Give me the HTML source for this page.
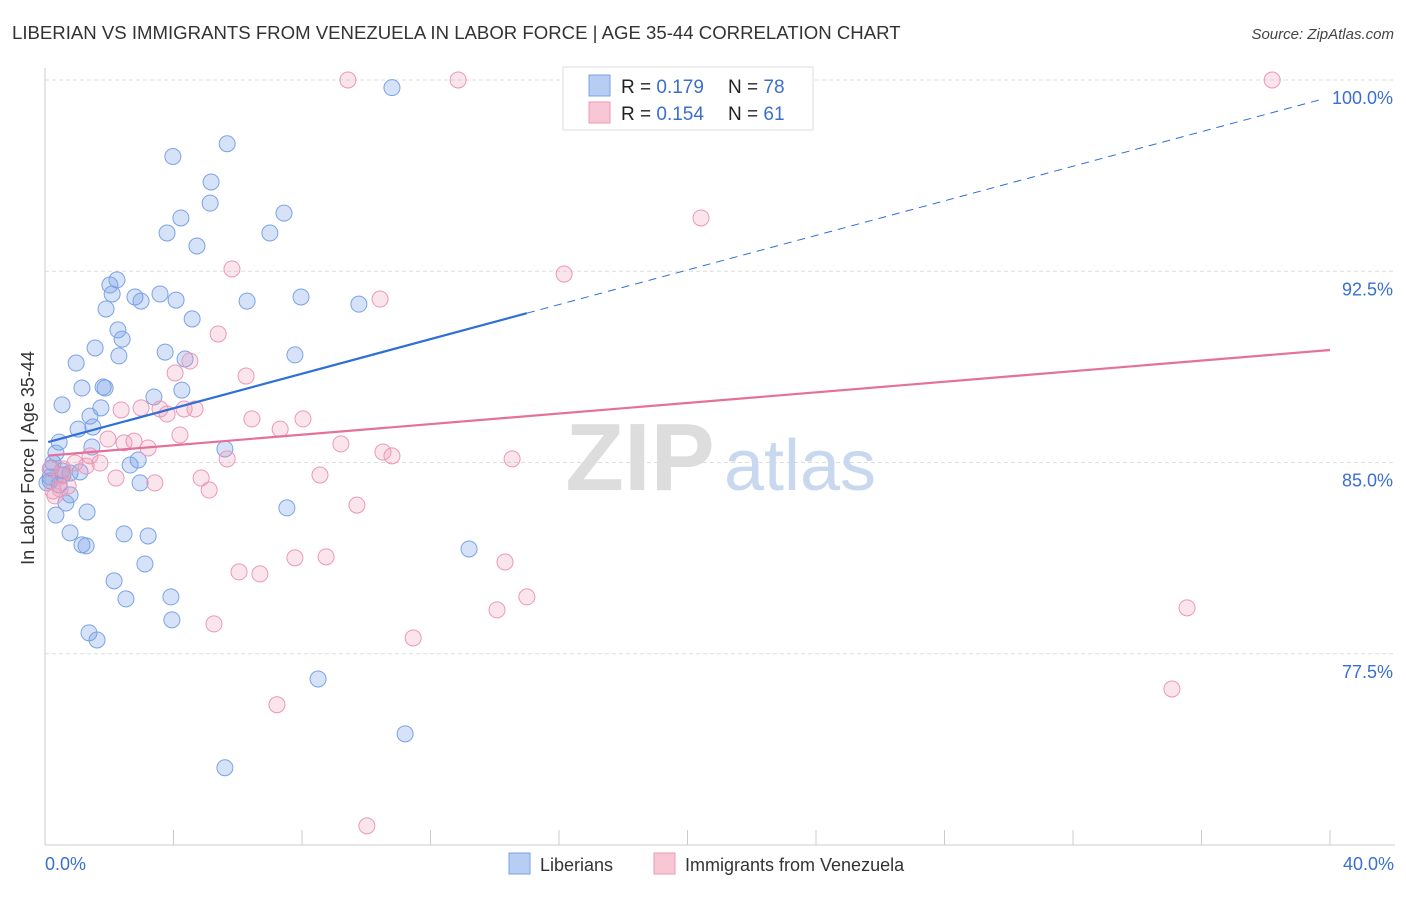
<!DOCTYPE html>
<html><head><meta charset="utf-8"><style>
body{margin:0;background:#fff;font-family:"Liberation Sans",sans-serif;}
svg text{font-family:"Liberation Sans",sans-serif;}
</style></head><body>
<svg id="chart" width="1406" height="892" viewBox="0 0 1406 892">
<text x="12" y="39" font-size="18.6" fill="#333">LIBERIAN VS IMMIGRANTS FROM VENEZUELA IN LABOR FORCE | AGE 35-44 CORRELATION CHART</text>
<text x="1394" y="39" font-size="15" fill="#444" font-style="italic" text-anchor="end">Source: ZipAtlas.com</text>
<g id="grid"></g>
<text x="640" y="490" font-size="96" fill="#ddd" font-family="Liberation Serif" font-weight="bold" text-anchor="middle">ZIP</text>
<text x="800" y="490" font-size="72" fill="#c8d8ee" text-anchor="middle">atlas</text>
<line x1="45" y1="68" x2="45" y2="845" stroke="#ccc"/>
<line x1="45" y1="845" x2="1395" y2="845" stroke="#ccc"/>
<g id="ticks"></g>
<g id="pts"></g>
<g id="lines"></g>
<text x="34" y="458" font-size="18" fill="#333" text-anchor="middle" transform="rotate(-90 34 458)">In Labor Force | Age 35-44</text>
<text x="45" y="870" font-size="18" fill="#3a6fd0">0.0%</text>
<text x="1394" y="870" font-size="18" fill="#3a6fd0" text-anchor="end">40.0%</text>
<g>
<rect x="563" y="67" width="250" height="63" fill="#fff" stroke="#ddd"/>
<rect x="589" y="75" width="21" height="21" fill="#b7cdf3" stroke="#7aa3e6"/>
<rect x="589" y="102" width="21" height="21" fill="#f9c6d6" stroke="#ec98b4"/>
<text x="621" y="93" font-size="19" fill="#222">R = <tspan fill="#3a6fd0">0.179</tspan></text>
<text x="728" y="93" font-size="19" fill="#222">N = <tspan fill="#3a6fd0">78</tspan></text>
<text x="621" y="120" font-size="19" fill="#222">R = <tspan fill="#3a6fd0">0.154</tspan></text>
<text x="728" y="120" font-size="19" fill="#222">N = <tspan fill="#3a6fd0"> 61</tspan></text>
</g>
<g>
<rect x="509" y="853" width="21" height="21" fill="#b7cdf3" stroke="#7aa3e6"/>
<text x="540" y="871" font-size="18" fill="#333">Liberians</text>
<rect x="654" y="853" width="21" height="21" fill="#f9c6d6" stroke="#ec98b4"/>
<text x="685" y="871" font-size="18" fill="#333">Immigrants from Venezuela</text>
</g>
</svg>
<script>
const yTicks=[100,92.5,85,77.5];
const yTickLabels=["100.0%","92.5%","85.0%","77.5%"];
const xTicks=[0,4,8,12,16,20,24,28,32,36,40];
const blueX=[10.8,5.67,3.98,5.17,5.14,4.23,3.8,4.73,7.44,7.0,2.24,2.02,2.09,2.8,2.99,3.58,4.08,6.29,7.97,9.77,1.9,4.58,2.27,2.4,1.56,3.74,2.3,4.36,7.78,0.97,1.15,1.81,1.87,4.26,3.39,0.53,1.74,1.4,1.03,1.49,0.44,1.46,5.6,0.34,2.9,2.65,0.25,1.09,0.78,0.56,0.16,0.16,2.96,0.44,0.78,0.65,7.53,0.34,1.31,0.78,2.46,3.21,1.15,1.28,13.2,3.11,2.15,2.52,3.92,3.95,1.37,1.62,8.5,11.21,5.6,0.19,0.06,0.53];
const blueY=[99.7,97.5,97.0,96.0,95.17,94.59,94.0,93.49,94.78,94.0,92.16,91.96,91.61,91.49,91.33,91.61,91.37,91.33,91.49,91.21,91.02,90.63,90.2,89.84,89.49,89.33,89.18,89.06,89.22,88.9,87.92,87.96,87.92,87.84,87.57,87.26,87.14,86.82,86.31,86.39,85.8,85.61,85.53,85.37,85.1,84.9,84.98,84.63,84.59,84.51,84.43,84.28,84.2,84.12,83.73,83.41,83.22,82.94,83.06,82.24,82.2,82.12,81.77,81.73,81.61,81.02,80.36,79.65,79.73,78.83,78.32,78.04,76.51,74.36,73.03,84.79,84.2,84.67];
const pinkX=[9.43,12.86,21.36,38.2,20.42,5.82,16.16,10.43,5.39,4.51,4.05,6.26,2.37,2.99,3.58,4.33,4.67,3.8,6.44,8.03,4.2,1.96,2.77,2.46,3.21,7.32,9.21,10.52,10.8,14.54,5.67,1.4,0.93,1.28,0.56,2.21,4.86,5.11,3.42,8.56,0.47,0.25,9.71,7.78,8.75,14.32,6.04,6.69,15.0,14.07,35.55,5.26,11.46,35.08,7.22,10.02,0.16,0.72,1.71,0.5,0.31];
const pinkY=[100,100,100,100,94.59,92.59,92.39,91.41,90.04,88.98,88.51,88.39,87.06,87.14,87.1,87.1,87.1,86.9,86.71,86.71,86.08,85.92,85.84,85.77,85.57,86.31,85.73,85.41,85.26,85.14,85.14,85.26,84.98,84.86,84.75,84.39,84.39,83.92,84.2,84.51,83.96,83.88,83.33,81.26,81.3,81.1,80.71,80.63,79.73,79.22,79.3,78.67,78.12,76.12,75.5,70.75,84.75,84.08,84.98,84.47,83.69];
const blueFit=[85.77,0.339];
const pinkFit=[85.26,0.1038];
const NS="http://www.w3.org/2000/svg";
const X=v=>45+v*32.125, Y=v=>80+(100-v)*25.5;
function mk(tag,attrs,parent){const e=document.createElementNS(NS,tag);for(const k in attrs)e.setAttribute(k,attrs[k]);document.getElementById(parent).appendChild(e);return e;}
yTicks.forEach((t,i)=>{
 const l=mk('line',{x1:45,x2:1395,y1:Y(t),y2:Y(t),stroke:'#ddd','stroke-dasharray':'4,3'},'grid');
 
 
 const tx=mk('text',{x:1393,y:Y(t)+24,'font-size':18,fill:'#3a6fd0','text-anchor':'end'},'grid');
 tx.textContent=yTickLabels[i];
 
 
});
xTicks.forEach(t=>{
 const l=mk('line',{x1:X(t),x2:X(t),y1:830,y2:845,stroke:'#ccc'},'ticks');
 
 
});
function pts(xs,ys,fill,stroke,name){xs.forEach((x,i)=>{
 const c=mk('circle',{cx:X(x),cy:Y(ys[i]),r:8,fill:fill,stroke:stroke,'stroke-width':1},'pts');
 
 
});}
pts(blueX,blueY,'rgba(120,160,230,0.3)','#7aa3e6','liberian-point');
pts(pinkX,pinkY,'rgba(240,150,185,0.25)','#ec98b4','venezuela-point');
let l=mk('line',{x1:X(0.1),y1:Y(blueFit[0]+blueFit[1]*0.1),x2:X(15),y2:Y(blueFit[0]+blueFit[1]*15),stroke:'#2f6fd6','stroke-width':2.2},'lines');


l=mk('line',{x1:X(15),y1:Y(blueFit[0]+blueFit[1]*15),x2:X(39.7),y2:Y(blueFit[0]+blueFit[1]*39.7),stroke:'#2f6fd6','stroke-width':1,'stroke-dasharray':'8,6'},'lines');


l=mk('line',{x1:X(0.1),y1:Y(pinkFit[0]+pinkFit[1]*0.1),x2:X(40),y2:Y(pinkFit[0]+pinkFit[1]*40),stroke:'#e4719b','stroke-width':2.2},'lines');


</script>
</body></html>
